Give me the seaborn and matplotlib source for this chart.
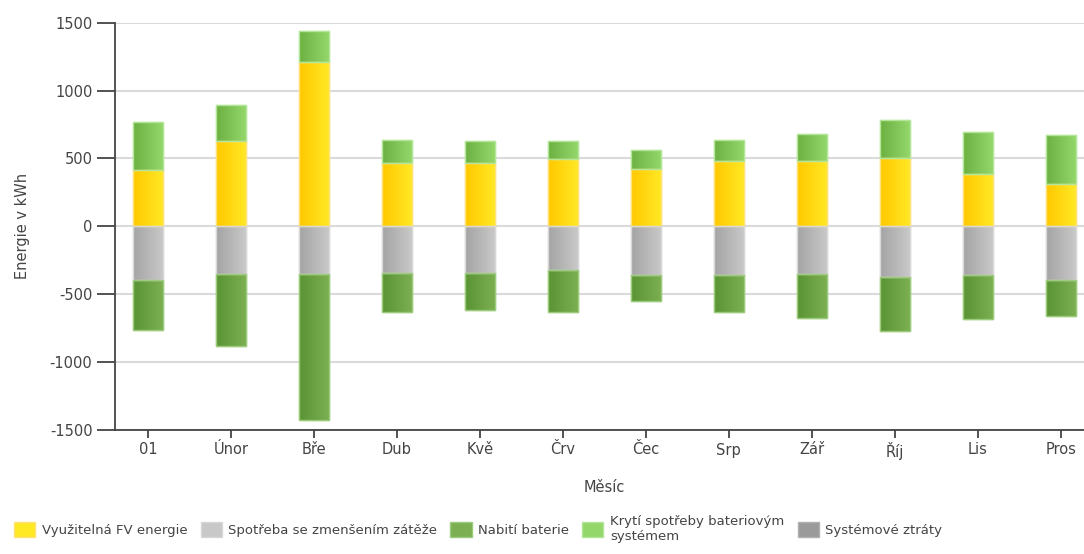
import numpy as np
import pandas as pd
import matplotlib
matplotlib.use("Agg")
import matplotlib.pyplot as plt
from matplotlib.patches import Patch
from matplotlib.colors import LinearSegmentedColormap
import seaborn as sns

# Monthly energy balance (kWh)
months = ["01", "Únor", "Bře", "Dub", "Kvě", "Črv", "Čec", "Srp", "Zář", "Říj", "Lis", "Pros"]
fv_energy = [414, 626, 1214, 470, 470, 493, 426, 480, 480, 505, 382, 315]
battery_cover = [354, 265, 222, 165, 156, 133, 133, 155, 202, 276, 310, 355]
reduced_load = [-396, -352, -352, -340, -340, -318, -362, -362, -352, -374, -362, -396]
battery_charge = [-365, -531, -1076, -288, -278, -310, -189, -266, -320, -399, -322, -266]
system_losses = [0] * 12

series_labels = ["Využitelná FV energie", "Spotřeba se zmenšením zátěže", "Nabití baterie",
                 "Krytí spotřeby bateriovým\nsystémem", "Systémové ztráty"]
yticks = [-1500, -1000, -500, 0, 500, 1000, 1500]

# gradient (left colour, right colour) and outline for each series
grad = {
    "fv": ("#FFC800", "#FFE824", "#FFE27A"),
    "load": ("#A4A4A4", "#C8C8C8", "#D8D8D8"),
    "charge": ("#5A9434", "#7BAF52", "#9CCB7C"),
    "cover": ("#6DB042", "#93D66A", "#B4E69A"),
    "loss": ("#6E6E6E", "#9A9A9A", "#B0B0B0"),
}

df = pd.DataFrame({"month": months, "fv": fv_energy, "cover": battery_cover,
                   "load": reduced_load, "charge": battery_charge, "loss": system_losses})

sns.set_theme(style="white")
plt.rcParams["font.family"] = ["DejaVu Sans"]
text_color = "#444444"

fig = plt.figure(figsize=(10.84, 5.54), dpi=100)
ax = fig.add_axes([114.7 / 1084, 124 / 554, (1094 - 114.7) / 1084, 407.3 / 554])

bar_w = 0.36
layers = [
    ("fv", df["fv"], None),
    ("cover", df["cover"], df["fv"]),
    ("load", df["load"], None),
    ("charge", df["charge"], df["load"]),
]
for key, vals, bottom in layers:
    kw = {} if bottom is None else {"bottom": bottom}
    n_before = len(ax.patches)
    sns.barplot(x=df["month"], y=vals, color=grad[key][1], saturation=1, width=bar_w,
                ax=ax, edgecolor=grad[key][2], linewidth=1.0, zorder=3, **kw)
    cmap = LinearSegmentedColormap.from_list(key, [grad[key][0], grad[key][1]])
    for p in ax.patches[n_before:]:
        x0, y0, w, h = p.get_x(), p.get_y(), p.get_width(), p.get_height()
        if h == 0:
            continue
        ylo, yhi = min(y0, y0 + h), max(y0, y0 + h)
        im = ax.imshow(np.linspace(0, 1, 64).reshape(1, -1), cmap=cmap, aspect="auto",
                       extent=(x0, x0 + w, ylo, yhi), zorder=3.5, interpolation="bilinear")
        im.set_clip_path(p)
        # redraw outline on top of the gradient
        ax.add_patch(plt.Rectangle((x0, ylo), w, yhi - ylo, fill=False,
                                   edgecolor=grad[key][2], linewidth=1.0, zorder=4))

ax.set_xlim(-0.4, 11.4)
ax.set_ylim(-1500, 1500)
ax.set_yticks(yticks)
ax.set_yticklabels([str(t) for t in yticks])
ax.grid(axis="y", color="#DADADA", linewidth=1.5, zorder=0)
ax.grid(axis="x", visible=False)
ax.set_axisbelow(True)

for s in ["top", "right"]:
    ax.spines[s].set_visible(False)
for s in ["left", "bottom"]:
    ax.spines[s].set_color("#444444")
    ax.spines[s].set_linewidth(1.3)

ax.tick_params(axis="y", length=13, width=1.3, color="#444444", pad=3,
               labelsize=10.5, labelcolor=text_color, left=True)
ax.tick_params(axis="x", length=6, width=1.3, color="#444444", pad=3,
               labelsize=10.5, labelcolor=text_color, bottom=True)

ax.set_xlabel("Měsíc", fontsize=10.5, color=text_color, labelpad=14)
ax.set_ylabel("Energie v kWh", fontsize=10.5, color=text_color, labelpad=14)

handles = [Patch(facecolor=grad[k][1], edgecolor=grad[k][2])
           for k in ["fv", "load", "charge", "cover", "loss"]]
fig.legend(handles, series_labels, loc="center left", bbox_to_anchor=(0.002, 0.045),
           ncol=5, frameon=False, fontsize=9.5, handlelength=1.6, handleheight=1.3,
           handletextpad=0.5, columnspacing=1.0, labelcolor=text_color)

fig.savefig("out.png", dpi=100)
